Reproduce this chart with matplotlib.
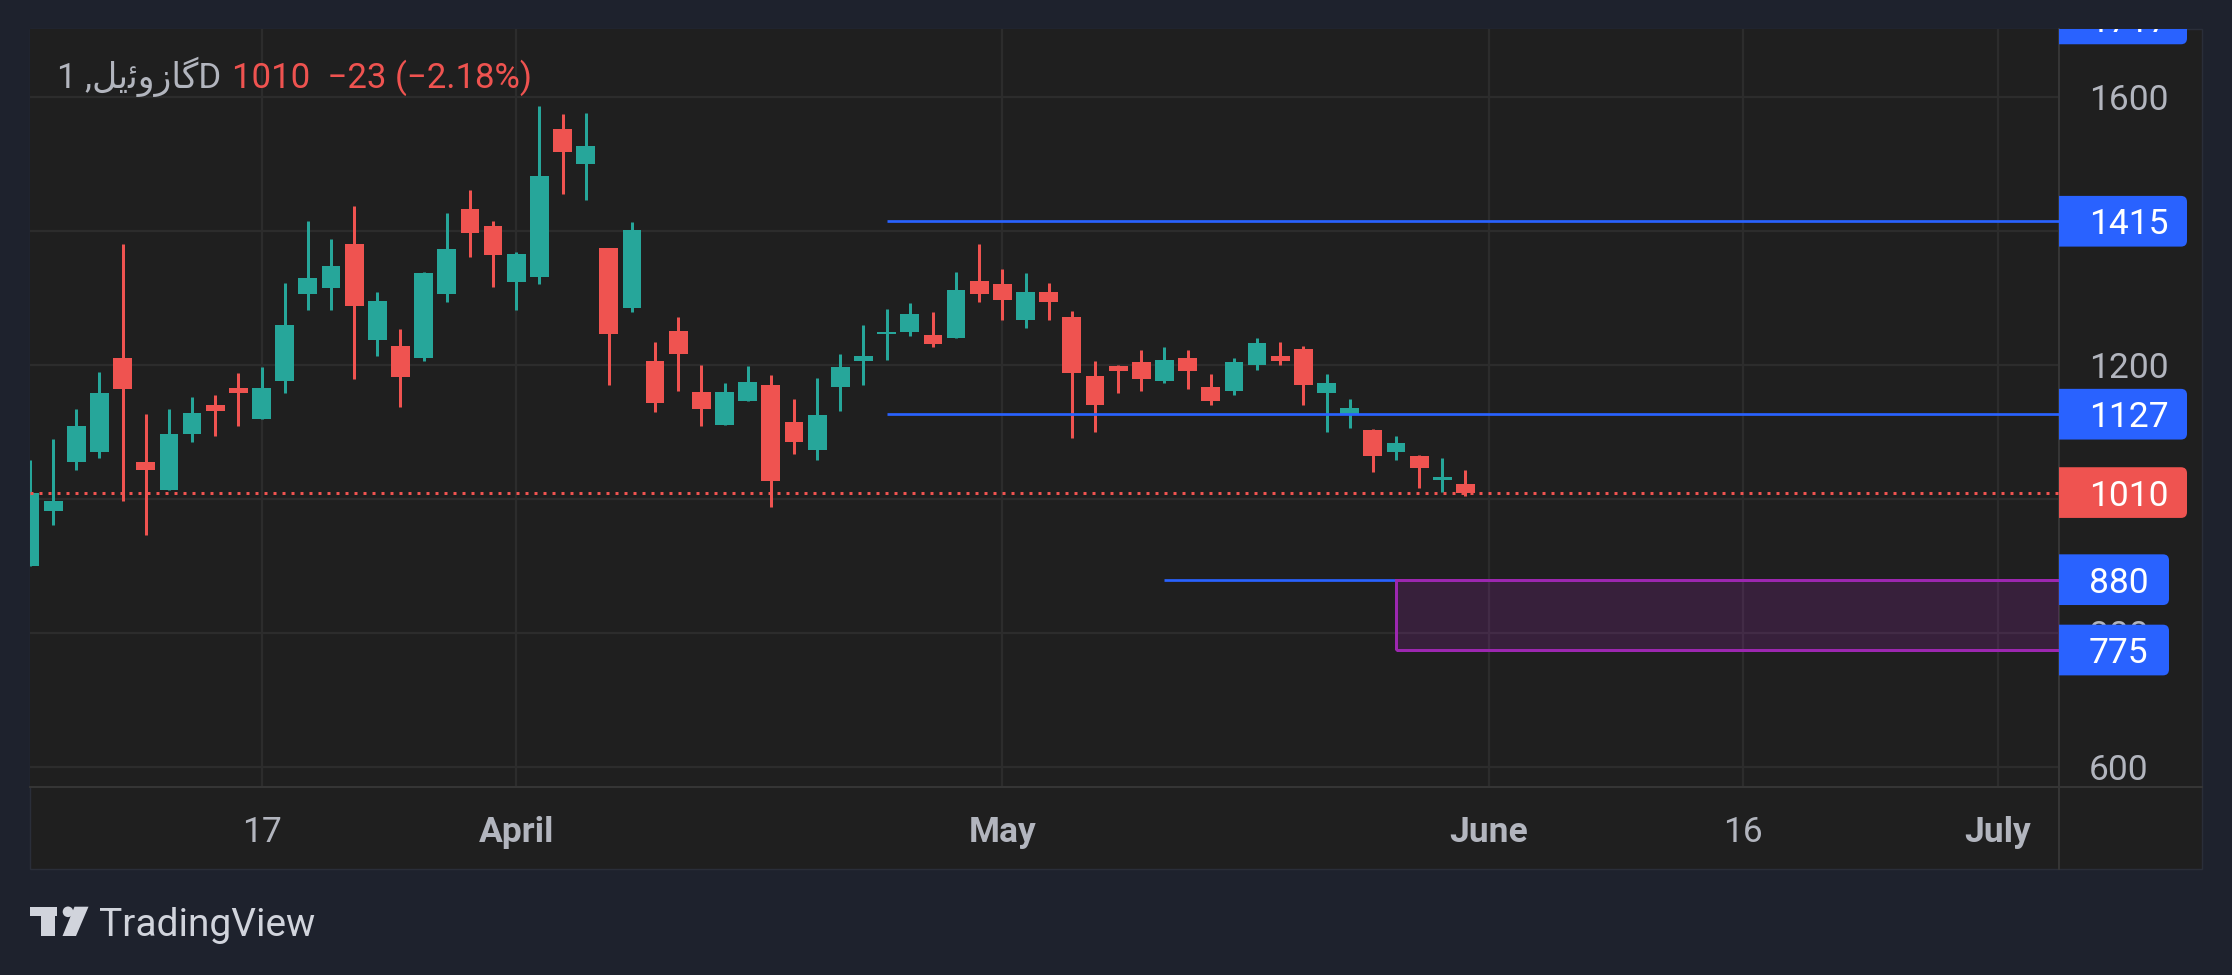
import matplotlib
matplotlib.use("Agg")
import matplotlib.pyplot as plt
import matplotlib.transforms as mtransforms
from matplotlib.patches import Rectangle, FancyBboxPatch, Polygon, Circle

plt.rcParams['font.family'] = ['Roboto', 'DejaVu Sans']

# ---------------- data (daily OHLC, bar index 0..62) ----------------
opens = [900, 982, 1055, 1070, 1211, 1056, 1014, 1098, 1141, 1166,
         1120, 1177, 1307, 1316, 1381, 1237, 1229, 1211, 1307, 1433,
         1408, 1325, 1332, 1553, 1501, 1375, 1285, 1206, 1251, 1160,
         1111, 1147, 1171, 1115, 1074, 1167, 1207, 1246, 1249, 1245,
         1240, 1326, 1321, 1267, 1309, 1272, 1184, 1199, 1205, 1176,
         1211, 1168, 1161, 1200, 1214, 1224, 1158, 1128, 1103, 1070,
         1065, 1029, 1023]
highs = [1059, 1090, 1135, 1190, 1381, 1127, 1135, 1153, 1156, 1189,
         1198, 1323, 1415, 1389, 1438, 1310, 1254, 1339, 1427, 1462,
         1415, 1369, 1587, 1575, 1577, 1375, 1414, 1235, 1272, 1201,
         1174, 1199, 1186, 1150, 1181, 1217, 1260, 1284, 1293, 1280,
         1339, 1381, 1344, 1338, 1323, 1281, 1206, 1201, 1223, 1227,
         1223, 1187, 1211, 1241, 1235, 1229, 1187, 1150, 1105, 1095,
         1066, 1062, 1044]
lows = [900, 961, 1044, 1061, 998, 946, 1014, 1085, 1094, 1110,
        1120, 1159, 1283, 1283, 1180, 1214, 1138, 1206, 1295, 1362,
        1317, 1282, 1322, 1455, 1446, 1171, 1279, 1131, 1161, 1110,
        1111, 1147, 989, 1067, 1059, 1132, 1171, 1208, 1244, 1228,
        1240, 1295, 1267, 1255, 1267, 1091, 1101, 1159, 1161, 1173,
        1165, 1141, 1156, 1193, 1200, 1140, 1101, 1107, 1040, 1058,
        1017, 1011, 1005]
closes = [1009, 997, 1110, 1159, 1165, 1043, 1098, 1129, 1132, 1159,
          1166, 1260, 1330, 1348, 1288, 1296, 1183, 1338, 1374, 1398,
          1364, 1366, 1483, 1519, 1527, 1247, 1402, 1144, 1217, 1135,
          1160, 1175, 1028, 1085, 1126, 1198, 1214, 1250, 1277, 1232,
          1312, 1307, 1298, 1309, 1294, 1188, 1141, 1192, 1179, 1208,
          1191, 1146, 1205, 1233, 1207, 1171, 1174, 1136, 1065, 1084,
          1047, 1033, 1010]

tick_idx = [10, 21, 42, 63, 74, 85]
tick_labels = ['17', 'April', 'May', 'June', '16', 'July']
tick_bold = [False, True, True, True, False, True]

grid_prices = [600, 800, 1000, 1200, 1400, 1600]
axis_prices = [1600, 1200, 800, 600]          # plain labels left visible
level_lines = [1415, 1127]
level_start = 37
support_line = 880
support_start = 49
zone_top, zone_bottom, zone_start = 880, 775, 59
last_price = 1010
offscreen_label = 1717
tag_labels = [(1717, '#2962ff'), (1415, '#2962ff'), (1127, '#2962ff'),
              (1010, '#ef5350'), (880, '#2962ff'), (775, '#2962ff')]

title_txt = "1 ,\uFEDE\uFBFE\uFE8B\uFEED\uFEAF\uFE8E\uFB94D"   # گازوئیل, 1D (visual order)
quote_txt = "1010  \u221223 (\u22122.18%)"

# ---------------- styling ----------------
W, H = 2232, 975
NAVY = '#1e222d'
PANEL = '#1f1f1f'
GRID = '#2c2c2c'
SEP = '#363636'
TXT = '#b2b5be'
UP = '#26a69a'
DOWN = '#ef5350'
BLUE = '#2962ff'
PURPLE = '#9c27b0'

X0, X1 = 30.0, 2059.3      # plot area px
Y0, Y1 = 29.3, 787.3
PR = 2202.3                # panel right
PB = 869.0                 # panel bottom
YLO, YHI = 570.1, 1701.5
XLO, XHI = 0.0, 87.65

fig = plt.figure(figsize=(W / 100, H / 100), dpi=100, facecolor=NAVY)

# canvas axes in pixel coordinates
cv = fig.add_axes([0, 0, 1, 1])
cv.set_xlim(0, W)
cv.set_ylim(H, 0)
cv.axis('off')
cv.set_zorder(-1)
cv.add_patch(Rectangle((X0, Y0), PR - X0, PB - Y0, facecolor=PANEL,
                       edgecolor='#2a2e39', lw=1.0))
cv.plot([X1, X1], [Y1, PB], color=SEP, lw=1.4)
cv.plot([X1, PR], [Y1, Y1], color=SEP, lw=1.4)

# main chart axes
ax = fig.add_axes([X0 / W, 1 - Y1 / H, (X1 - X0) / W, (Y1 - Y0) / H])
ax.set_facecolor(PANEL)
ax.set_xlim(XLO, XHI)
ax.set_ylim(YLO, YHI)
for s in ['top', 'left']:
    ax.spines[s].set_visible(False)
for s in ['right', 'bottom']:
    ax.spines[s].set_color(SEP)
    ax.spines[s].set_linewidth(1.4)
ax.set_yticks(grid_prices)
ax.set_xticks(tick_idx)
ax.grid(True, color=GRID, lw=1.6)
ax.set_axisbelow(True)
ax.tick_params(length=0, labelleft=False, labelbottom=False)

upp = (YHI - YLO) / (Y1 - Y0)   # price units per pixel

idx = list(range(len(opens)))
cols = [UP if c >= o else DOWN for o, c in zip(opens, closes)]
ax.vlines(idx, lows, highs, colors=cols, lw=2.16, zorder=2)
bottoms = [min(o, c) for o, c in zip(opens, closes)]
heights = [max(abs(c - o), 1.5 * upp) for o, c in zip(opens, closes)]
ax.bar(idx, heights, bottom=bottoms, width=0.81, color=cols, lw=0, zorder=3)

# drawings
ax.hlines(level_lines, level_start, XHI + 5, colors=BLUE, lw=1.95, zorder=4)
ax.hlines([support_line], support_start, XHI + 5, colors=BLUE, lw=1.95, zorder=4)
ax.add_patch(Rectangle((zone_start, zone_bottom), 60, zone_top - zone_bottom,
                       facecolor=PURPLE, alpha=0.2, lw=0, zorder=4))
ax.add_patch(Rectangle((zone_start, zone_bottom), 60, zone_top - zone_bottom,
                       facecolor='none', edgecolor=PURPLE, lw=2.16, zorder=5))
ax.axhline(last_price, color=DOWN, lw=2.16, linestyle=(0, (1, 2)), zorder=5)

# time axis labels
tt = mtransforms.blended_transform_factory(ax.transData, cv.transData)
for x, lab, b in zip(tick_idx, tick_labels, tick_bold):
    ax.text(x, 841.7, lab, transform=tt, ha='center', va='baseline',
            fontsize=25.5, color=TXT, fontweight='bold' if b else 'normal')

# price axis overlay
axp = fig.add_axes([X1 / W, 1 - Y1 / H, (PR - X1) / W, (Y1 - Y0) / H])
axp.set_xlim(0, PR - X1)
axp.set_ylim(YLO, YHI)
axp.axis('off')
axp.set_zorder(10)

base_off = 13 * upp
for p in axis_prices:
    axp.text(29.7, p - base_off, str(p), ha='left', va='baseline',
             fontsize=25.5, color=TXT, clip_on=True)

hh = 25.35 * upp
for p, c in tag_labels:
    w = 127.7 if len(str(p)) == 4 else 109.7
    axp.add_patch(FancyBboxPatch((-14, p - hh), w + 14, 2 * hh,
                                 boxstyle="round,pad=0,rounding_size=6",
                                 mutation_aspect=upp, facecolor=c,
                                 edgecolor='none', zorder=5))
    axp.text(29.7, p - base_off, str(p), ha='left', va='baseline',
             fontsize=25.5, color='white', clip_on=True, zorder=6)

# header
fig.text(57.3 / W, 1 - 88.3 / H, title_txt, ha='left', va='baseline',
         fontsize=25, color=TXT)
fig.text(232.5 / W, 1 - 88.3 / H, quote_txt, ha='left', va='baseline',
         fontsize=25, color=DOWN)

# TradingView logo
LOGO = '#d1d4dc'
cv.add_patch(Rectangle((29.9, 906.7), 26.8, 9.3, facecolor=LOGO, lw=0))
cv.add_patch(Rectangle((41.0, 906.7), 13.5, 29.3, facecolor=LOGO, lw=0))
cv.add_patch(Circle((68.0, 911.8), 5.3, facecolor=LOGO, lw=0))
cv.add_patch(Polygon([(74.5, 906.7), (88.5, 906.7), (76.0, 936.0), (62.5, 936.0)],
                     closed=True, facecolor=LOGO, lw=0))
cv.text(99, 936, 'TradingView', ha='left', va='baseline', fontsize=28, color=LOGO)

fig.savefig('out.png', dpi=100, facecolor=NAVY)
